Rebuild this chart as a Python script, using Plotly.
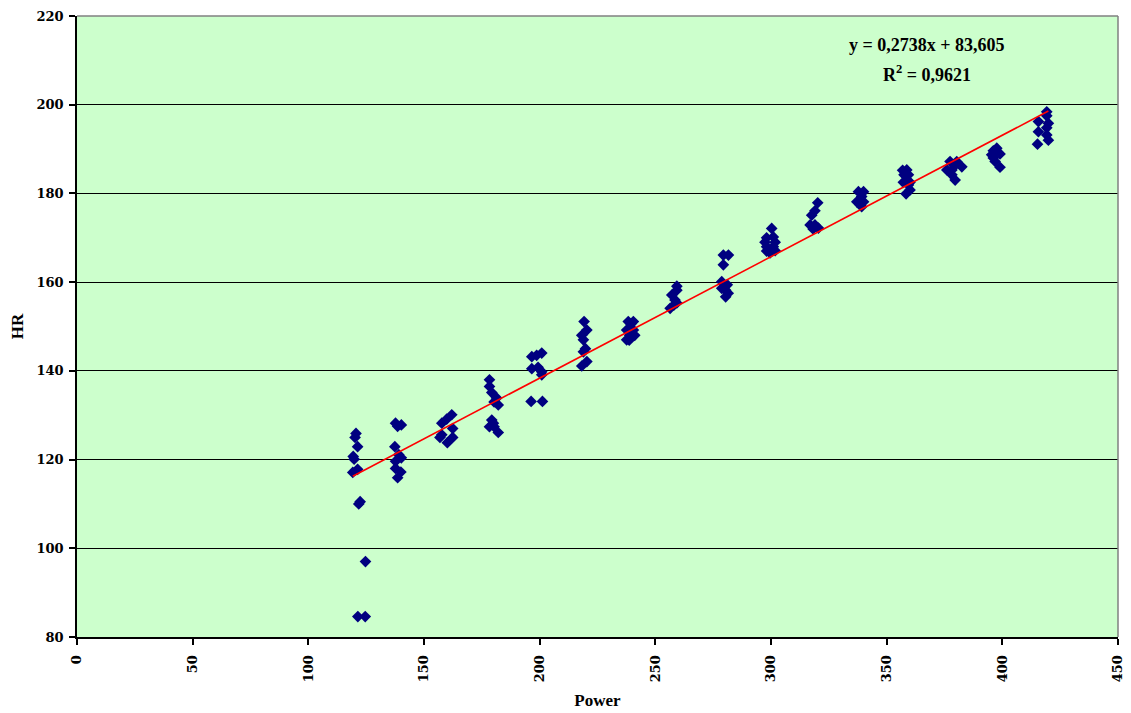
import numpy as np
import plotly.graph_objects as go

power = [
    120.6, 120.2, 121.3, 119.4, 119.8, 119.2, 121.3, 122.4, 121.8, 124.7, 121.4, 124.6,
    137.7, 140.2, 138.6, 137.4, 139.1, 140.2, 137.7, 137.7, 140.0, 138.6,
    162.0, 159.8, 157.7, 162.4, 157.7, 156.9, 162.4, 160.1,
    178.3, 178.3, 179.3, 181.4, 180.3, 182.1, 179.3, 178.3, 180.3, 182.1, 180.0,
    196.6, 198.7, 200.9, 196.6, 199.3, 200.9, 200.9, 196.3, 201.2,
    219.2, 220.4, 218.2, 218.9, 219.8, 218.9, 220.4, 218.2,
    238.3, 240.5, 239.5, 237.6, 240.5, 238.9, 241.1, 237.6, 238.7,
    259.3, 259.3, 257.1, 258.5, 259.3, 258.0, 256.4,
    279.4, 281.6, 279.4, 278.7, 281.1, 278.7, 280.4, 280.4, 281.5,
    300.3, 298.1, 301.0, 297.4, 301.8, 298.1, 301.0, 298.1, 301.8, 299.6,
    320.2, 319.0, 317.6, 316.9, 319.0, 320.5, 318.2,
    337.8, 340.0, 339.2, 337.1, 340.0, 339.2, 338.5,
    358.7, 356.9, 357.5, 359.4, 358.7, 357.2, 360.1, 359.4, 360.1, 358.4,
    377.4, 380.3, 382.5, 379.9, 376.0, 378.2, 378.2, 379.6,
    397.6, 396.1, 395.4, 399.0, 396.1, 396.9, 399.0,
    419.2, 419.2, 415.6, 419.9, 419.2, 415.6, 419.2, 419.9, 415.2,
]
hr = [
    125.9, 125.0, 122.9, 120.7, 120.1, 117.1, 117.8, 110.5, 110.0, 97.0, 84.6, 84.6,
    128.2, 127.8, 127.5, 122.9, 121.1, 120.4, 119.6, 118.0, 117.2, 115.9,
    130.1, 129.1, 128.2, 127.0, 125.6, 125.0, 125.0, 123.8,
    138.0, 136.5, 135.1, 133.9, 133.0, 132.3, 128.9, 127.4, 127.4, 126.1, 128.2,
    143.2, 143.5, 144.0, 140.5, 140.8, 139.8, 139.1, 133.1, 133.1,
    151.1, 149.2, 148.0, 147.0, 145.0, 144.3, 142.1, 141.1,
    151.1, 151.1, 150.6, 149.2, 149.2, 148.0, 148.0, 147.0, 146.9,
    159.1, 158.2, 157.1, 156.0, 155.3, 154.8, 154.1,
    166.1, 166.1, 163.9, 160.1, 159.4, 158.6, 158.2, 156.7, 157.5,
    172.1, 170.0, 170.2, 169.0, 169.0, 168.0, 168.0, 167.0, 167.1, 166.6,
    177.9, 176.1, 175.1, 172.9, 172.9, 172.2, 172.0,
    180.4, 180.4, 179.3, 178.1, 178.1, 177.0, 177.5,
    185.3, 185.2, 184.2, 184.2, 183.0, 182.5, 182.5, 181.9, 180.8, 179.9,
    187.2, 187.2, 186.0, 186.5, 185.3, 185.3, 184.2, 183.0,
    190.2, 189.6, 188.7, 188.9, 188.0, 187.2, 185.9,
    198.4, 197.5, 196.2, 195.8, 194.8, 193.9, 193.2, 192.0, 191.1,
]

slope = 0.2738
intercept = 83.605
equation_text = "y = 0,2738x + 83,605"
r2_text = "R<sup>2</sup> = 0,9621"

x_ticks = [0, 50, 100, 150, 200, 250, 300, 350, 400, 450]
y_ticks = [80, 100, 120, 140, 160, 180, 200, 220]

fit_x = [min(power), max(power)]
fit_y = [slope * v + intercept for v in fit_x]

FONT = "Liberation Serif"
TICKFONT = "DejaVu Serif"

fig = go.Figure()
fig.add_trace(go.Scatter(
    x=power, y=hr, mode="markers",
    marker=dict(symbol="diamond", size=9, color="#000080"),
    showlegend=False,
))
fig.add_trace(go.Scatter(
    x=fit_x, y=fit_y, mode="lines",
    line=dict(color="#FF0000", width=1.6),
    showlegend=False,
))

fig.update_layout(
    width=1131, height=713,
    margin=dict(l=69, r=21, t=8, b=84),
    paper_bgcolor="white",
    plot_bgcolor="#CCFFCC",
    font=dict(family=FONT, color="black", size=13),
    xaxis=dict(
        range=[0, 450], tickvals=x_ticks, ticktext=[f"<b>{v}</b>" for v in x_ticks],
        tickangle=-90, ticks="outside", ticklen=6, tickcolor="black", tickwidth=2,
        ticklabelstandoff=5,
        showline=True, linecolor="black", linewidth=2,
        showgrid=False, zeroline=False, automargin=False,
        title=dict(text="<b>Power</b>", font=dict(size=17, family=FONT), standoff=13),
        tickfont=dict(size=13, family=TICKFONT),
    ),
    yaxis=dict(
        range=[80, 220], tickvals=y_ticks, ticktext=[f"<b>{v}</b>" for v in y_ticks],
        ticks="outside", ticklen=6, tickcolor="black", tickwidth=2,
        ticklabelstandoff=3,
        showline=True, linecolor="black", linewidth=1.5,
        showgrid=True, gridcolor="black", gridwidth=1,
        zeroline=False, automargin=False,
        title=dict(text="<b>HR</b>", font=dict(size=17, family=FONT), standoff=12),
        tickfont=dict(size=13, family=TICKFONT),
    ),
    shapes=[
        dict(type="line", xref="paper", yref="paper", x0=0, x1=1, y0=1, y1=1,
             line=dict(color="#808080", width=1.5)),
        dict(type="line", xref="paper", yref="paper", x0=1, x1=1, y0=0, y1=1,
             line=dict(color="#808080", width=1.5)),
    ],
    annotations=[
        dict(x=0.817, y=0.953, xref="paper", yref="paper", showarrow=False,
             xanchor="center", yanchor="middle",
             text=f"<b>{equation_text}</b>", font=dict(size=18, family=FONT)),
        dict(x=0.817, y=0.908, xref="paper", yref="paper", showarrow=False,
             xanchor="center", yanchor="middle",
             text=f"<b>{r2_text}</b>", font=dict(size=18, family=FONT)),
    ],
)

fig.write_html("out.html")
